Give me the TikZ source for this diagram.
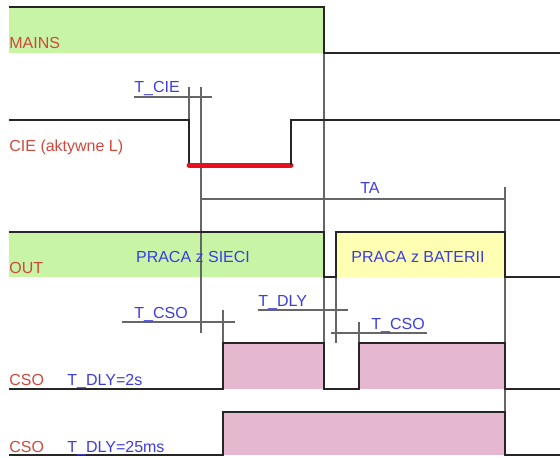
\documentclass[tikz,border=0pt]{standalone}
\usepackage{fontspec}
\setmainfont{Liberation Sans}
\usetikzlibrary{positioning}

\definecolor{mainsgreen}{HTML}{C8F4A6}
\definecolor{battyellow}{HTML}{FFFFB3}
\definecolor{csopink}{HTML}{E6B8D0}
\definecolor{sigred}{HTML}{D0483A}
\definecolor{lblblue}{HTML}{3C3CE6}
\definecolor{ciered}{HTML}{E8101E}

\begin{document}
\begin{tikzpicture}[
        x=0.5pt, y=-0.5pt, % pixel grid, y downwards
        every node/.style={font=\fontsize{8}{9}\selectfont, inner sep=0pt},
        wave/.style={line width=1pt, black!85},
        dimline/.style={line width=0.7pt, black!60},
        signame/.style={text=sigred, anchor=base west},
        timelbl/.style={text=lblblue, anchor=base west}
    ]
        \useasboundingbox (0,0) rectangle (560,457);

        % Fills
        \fill[mainsgreen] (9,7) rectangle (324,53);
        \fill[mainsgreen] (9,232) rectangle (324,277);
        \fill[battyellow] (336,232) rectangle (505,277);
        \fill[csopink] (223,343) rectangle (324,389);
        \fill[csopink] (359,343) rectangle (505,389);
        \fill[csopink] (223,412) rectangle (505,455);

        % Reference and dimension lines
        \draw[dimline] (324,7) -- (324,389);
        \draw[dimline] (189,87) -- (189,120);
        \draw[dimline] (201,87) -- (201,333);
        \draw[dimline] (134,97) -- (212,97);
        \draw[dimline] (201,199) -- (505,199);
        \draw[dimline] (505,187) -- (505,455);
        \draw[dimline] (122,322) -- (235,322);
        \draw[dimline] (223,310) -- (223,343);
        \draw[dimline] (258,310) -- (348,310);
        \draw[dimline] (336,277) -- (336,343);
        \draw[dimline] (331,333) -- (427,333);
        \draw[dimline] (359,322) -- (359,343);

        % Waveforms
        \draw[wave] (9,7) -- (324,7) -- (324,53) -- (560,53);
        \draw[wave] (9,120) -- (189,120) -- (189,165);
        \draw[ciered, line width=2.5pt, line cap=round] (189,165) -- (291,165);
        \draw[wave] (291,165) -- (291,120) -- (560,120);
        \draw[wave] (9,232) -- (324,232) -- (324,277) -- (336,277) -- (336,232)
            -- (505,232) -- (505,277) -- (560,277);
        \draw[wave] (9,389) -- (223,389) -- (223,343) -- (324,343) -- (324,389)
            -- (359,389) -- (359,343) -- (505,343) -- (505,389) -- (560,389);
        \draw[wave] (9,455) -- (223,455) -- (223,412) -- (505,412) -- (505,455) -- (560,455);

        % Signal names
        \node[signame] (mains) at (9,48) {MAINS};
        \node[signame] (cie) at (9,151) {CIE (aktywne L)};
        \node[signame] (out) at (9,273) {OUT};
        \node[signame] (cso1) at (9,385) {CSO};
        \node[signame] (cso2) at (9,452) {CSO};

        % Timing labels
        \node[timelbl] (tcie) at (134,92) {T\_CIE};
        \node[text=lblblue] (ta) at (370,188) {TA};
        \node[text=lblblue] (mainsrun) at (193,257) {PRACA z SIECI};
        \node[text=lblblue] (battrun) at (418,257) {PRACA z BATERII};
        \node[timelbl] (tcso1) at (134,318) {T\_CSO};
        \node[timelbl] (tdly) at (258,306) {T\_DLY};
        \node[timelbl] (tcso2) at (371,329) {T\_CSO};
        \node[timelbl] (dly2s) at (67,385) {T\_DLY=2s};
        \node[timelbl] (dly25) at (67,452) {T\_DLY=25ms};

    \end{tikzpicture}
\end{document}
